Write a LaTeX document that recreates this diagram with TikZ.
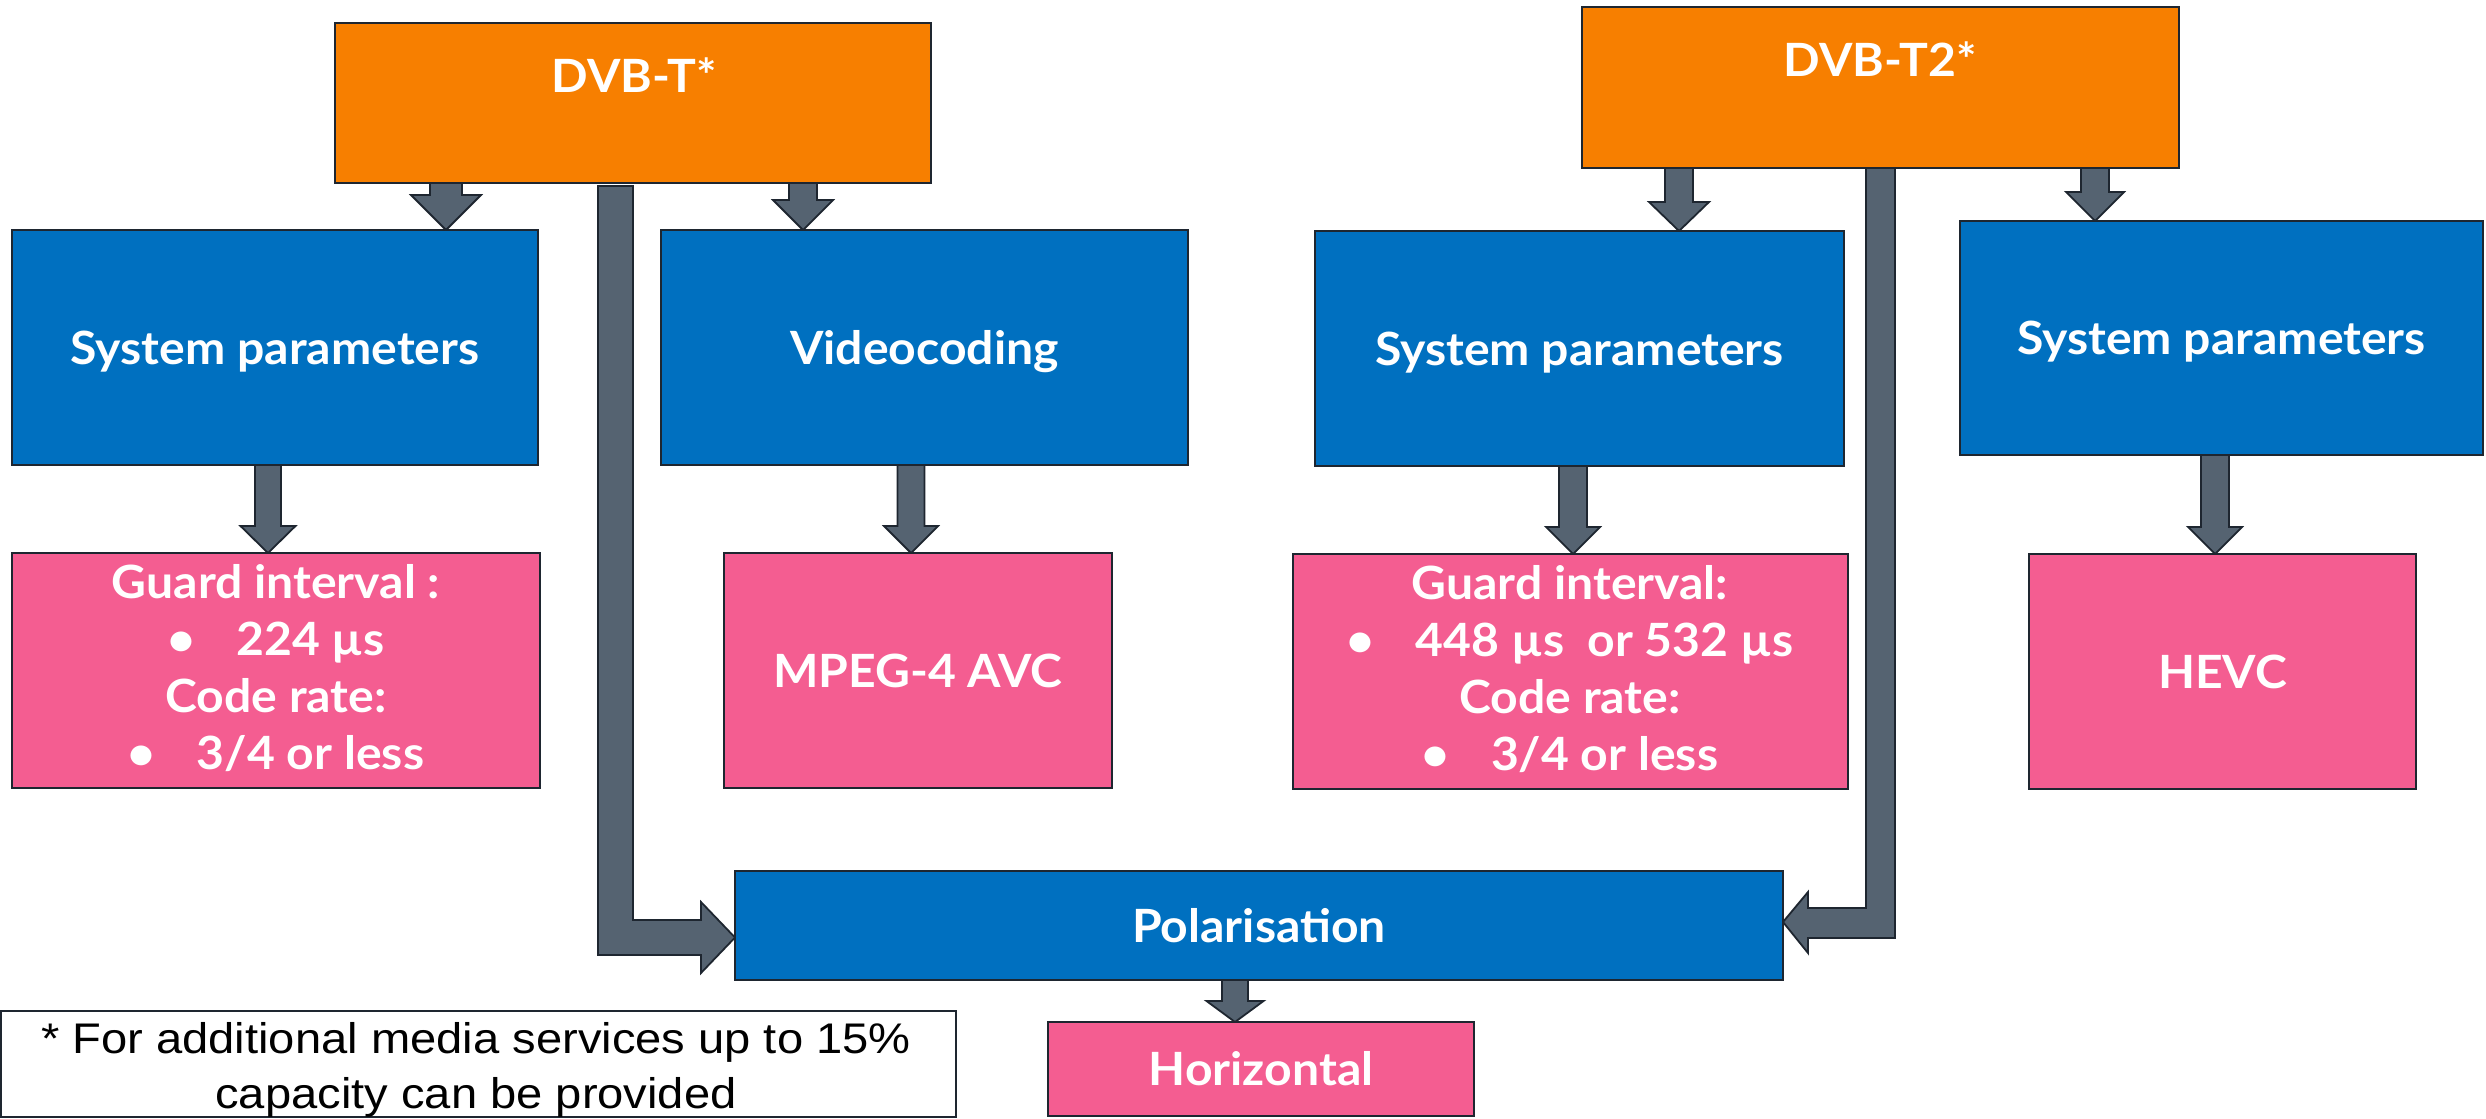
\documentclass[tikz,border=0pt]{standalone}
\usepackage{fontspec}
\setmainfont{Lato}[FakeStretch=1.05]
\newfontfamily\notefont{Liberation Sans}[FakeStretch=1.1]
\usetikzlibrary{calc}
\definecolor{orangeC}{RGB}{247,127,0}
\definecolor{blueC}{RGB}{0,112,192}
\definecolor{pinkC}{RGB}{244,93,145}
\definecolor{arrowC}{RGB}{85,99,113}
\definecolor{edgeC}{RGB}{30,38,48}
\pgfdeclarelayer{bg}
\pgfsetlayers{bg,main}
\newcommand{\vblk}[6]{%
  \path[blk] let \p1=(#1.south), \p2=(#2.north) in
  ({#3bp-#4bp},\y1) -- ({#3bp-#4bp},{\y2+#6bp}) -- ({#3bp-#5bp},{\y2+#6bp}) --
  (#3bp,\y2) -- ({#3bp+#5bp},{\y2+#6bp}) -- ({#3bp+#4bp},{\y2+#6bp}) --
  ({#3bp+#4bp},\y1) -- cycle;}
\tikzset{
  box/.style={draw=edgeC, line width=2.5bp, outer sep=0pt, inner sep=0pt,
    text=white, align=center, font=\bfseries\fontsize{46}{57}\selectfont},
  onebox/.style={box, text height=33bp, text depth=0bp},
  obox/.style={box, fill=orangeC},
  bbox/.style={onebox, fill=blueC},
  pbox/.style={onebox, fill=pinkC},
  plist/.style={box, fill=pinkC},
  lbl/.style={text=white, inner sep=0pt, font=\bfseries\fontsize{46}{57}\selectfont,
    text height=33bp, text depth=0bp},
  lsttxt/.style={text=white, inner sep=0pt, align=center,
    font=\bfseries\fontsize{46}{57}\selectfont},
  notebox/.style={draw=edgeC, fill=white, line width=2bp, outer sep=0pt, inner sep=0pt},
  notetxt/.style={text=black, inner sep=0pt, align=center,
    font=\notefont\fontsize{43}{56}\selectfont},
  blk/.style={fill=arrowC, draw=edgeC, line width=1.8bp, line join=miter}
}
\begin{document}
\begin{tikzpicture}[x=1bp,y=-1bp]
\useasboundingbox (0,0) rectangle (2486,1118);
% top boxes
\node[obox, minimum width=596bp, minimum height=160bp] (dvbt) at (633,103) {};
\node[lbl] (dvbtL) at (634,75.5) {DVB-T*};
\node[obox, minimum width=597bp, minimum height=161bp] (dvbt2) at (1880.5,87.5) {};
\node[lbl] (dvbt2L) at (1880,60) {DVB-T2*};
% second row
\node[bbox, minimum width=526bp, minimum height=235bp] (sys1) at (275,347.5) {System parameters};
\node[bbox, minimum width=527bp, minimum height=235bp] (video) at (924.5,347.5) {Videocoding};
\node[bbox, minimum width=529bp, minimum height=235bp] (sys2) at (1579.5,348.5) {System parameters};
\node[bbox, minimum width=523bp, minimum height=234bp] (sys3) at (2221.5,338) {System parameters};
% third row
\node[plist, minimum width=528bp, minimum height=235bp] (gi1) at (276,670.5) {};
\node[lsttxt] (gi1L) at (276,668) {Guard interval :\\ \textbullet\hspace{0.9em}224 µs\\Code rate:\\ \textbullet\hspace{0.9em}3/4 or less};
\node[pbox, minimum width=388bp, minimum height=235bp] (mpeg) at (918,670.5) {MPEG-4 AVC};
\node[plist, minimum width=555bp, minimum height=235bp] (gi2) at (1570.5,671.5) {};
\node[lsttxt] (gi2L) at (1570,669) {Guard interval:\\ \textbullet\hspace{0.9em}448 µs\ \ or 532 µs\\Code rate:\\ \textbullet\hspace{0.9em}3/4 or less};
\node[pbox, minimum width=387bp, minimum height=235bp] (hevc) at (2222.5,671.5) {HEVC};
% bottom
\node[bbox, minimum width=1048bp, minimum height=109bp] (pol) at (1259,925.5) {Polarisation};
\node[pbox, minimum width=426bp, minimum height=94bp] (horiz) at (1261,1069) {Horizontal};
\node[notebox, minimum width=955bp, minimum height=106bp] (note) at (478.5,1064) {};
\node[notetxt] (noteL) at (476,1070) {* For additional media services up to 15\%\\capacity can be provided};
% arrows
\begin{pgfonlayer}{bg}
\vblk{dvbt}{sys1}{446}{16}{35}{35}
\vblk{dvbt}{video}{803}{14}{30}{30}
\vblk{sys1}{gi1}{268}{13}{27.5}{27}
\vblk{video}{mpeg}{911}{13.5}{27}{27}
\vblk{dvbt2}{sys2}{1679}{14}{30}{29}
\vblk{dvbt2}{sys3}{2095}{14}{29}{29}
\vblk{sys2}{gi2}{1573}{14}{27}{27}
\vblk{sys3}{hevc}{2215}{14}{27}{27}
\vblk{pol}{horiz}{1235}{13}{28.5}{21}
\path[blk] let \p1=(dvbt.south), \p2=($(pol.west)+(0,12)$) in
  (598bp,{\y1-3bp}) -- (633bp,{\y1-3bp}) -- (633bp,{\y2+17.5bp}) --
  ({\x2-34bp},{\y2+17.5bp}) -- ({\x2-34bp},{\y2+35.5bp}) -- (\p2) --
  ({\x2-34bp},{\y2-35.5bp}) -- ({\x2-34bp},{\y2-17.5bp}) -- (598bp,{\y2-17.5bp}) -- cycle;
\path[blk] let \p1=(dvbt2.south), \p2=($(pol.east)+(0,-3.5)$) in
  (1866bp,\y1) -- (1895bp,\y1) -- (1895bp,{\y2-16bp}) --
  ({\x2+25bp},{\y2-16bp}) -- ({\x2+25bp},{\y2-31bp}) -- (\p2) --
  ({\x2+25bp},{\y2+30bp}) -- ({\x2+25bp},{\y2+14bp}) -- (1866bp,{\y2+14bp}) -- cycle;
\end{pgfonlayer}
\end{tikzpicture}
\end{document}
